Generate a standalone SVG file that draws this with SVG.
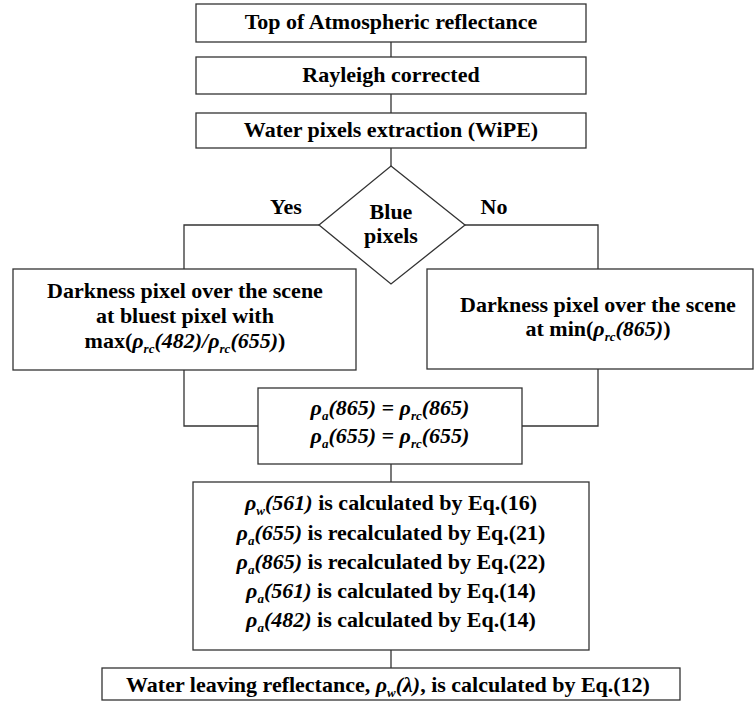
<svg xmlns="http://www.w3.org/2000/svg" width="756" height="702" viewBox="0 0 756 702">
<style>
.box{fill:#fff;stroke:#333;stroke-width:1.3}
.ln{fill:none;stroke:#333;stroke-width:1.3}
.t{font-family:"Liberation Serif","Times New Roman",serif;font-weight:bold;font-size:22px;fill:#000;text-anchor:middle}
.i{font-style:italic}
.s{font-size:13px;font-style:italic}
</style>
<rect width="756" height="702" fill="#fff"/>
<g id="connectors">
<path class="ln" d="M391,42V57M391,94V113M391,148V166"/>
<path class="ln" d="M319,225H184V269"/>
<path class="ln" d="M465,225H598V269"/>
<path class="ln" d="M184,370V426H258"/>
<path class="ln" d="M598,369V426H522"/>
<path class="ln" d="M391,464V482M391,650V668"/>
</g>
<g id="toa">
<rect class="box" x="196" y="4" width="390" height="38"/>
<text class="t" x="391" y="29">Top of Atmospheric reflectance</text>
</g>
<g id="rayleigh">
<rect class="box" x="196" y="57" width="390" height="37"/>
<text class="t" x="391" y="82">Rayleigh corrected</text>
</g>
<g id="wipe">
<rect class="box" x="196" y="113" width="390" height="35"/>
<text class="t" x="391" y="137">Water pixels extraction (WiPE)</text>
</g>
<g id="decision">
<polygon class="box" points="391,166 465,225 391,284 319,225"/>
<text class="t" x="391" y="219">Blue</text>
<text class="t" x="391" y="243">pixels</text>
<text class="t" x="286" y="214">Yes</text>
<text class="t" x="494" y="214">No</text>
</g>
<g id="left">
<rect class="box" x="13" y="269" width="343" height="101"/>
<text class="t" x="185" y="298">Darkness pixel over the scene</text>
<text class="t" x="185" y="323">at bluest pixel with</text>
<text class="t" x="185" y="348">max(<tspan class="i">ρ</tspan><tspan class="s" dy="5">rc</tspan><tspan class="i" dy="-5">(482)/ρ</tspan><tspan class="s" dy="5">rc</tspan><tspan class="i" dy="-5">(655)</tspan>)</text>
</g>
<g id="right">
<rect class="box" x="427" y="269" width="326" height="100"/>
<text class="t" x="598" y="312">Darkness pixel over the scene</text>
<text class="t" x="598" y="336">at min(<tspan class="i">ρ</tspan><tspan class="s" dy="5">rc</tspan><tspan class="i" dy="-5">(865)</tspan>)</text>
</g>
<g id="init">
<rect class="box" x="258" y="388" width="264" height="76"/>
<text class="t i" x="390" y="415">ρ<tspan class="s" dy="5">a</tspan><tspan dy="-5">(865) = ρ</tspan><tspan class="s" dy="5">rc</tspan><tspan dy="-5">(865)</tspan></text>
<text class="t i" x="390" y="443">ρ<tspan class="s" dy="5">a</tspan><tspan dy="-5">(655) = ρ</tspan><tspan class="s" dy="5">rc</tspan><tspan dy="-5">(655)</tspan></text>
</g>
<g id="calc">
<rect class="box" x="193" y="482" width="396" height="168"/>
<text class="t" x="391" y="510"><tspan class="i">ρ</tspan><tspan class="s" dy="5">w</tspan><tspan class="i" dy="-5">(561)</tspan> is calculated by Eq.(16)</text>
<text class="t" x="391" y="540"><tspan class="i">ρ</tspan><tspan class="s" dy="5">a</tspan><tspan class="i" dy="-5">(655)</tspan> is recalculated by Eq.(21)</text>
<text class="t" x="391" y="569"><tspan class="i">ρ</tspan><tspan class="s" dy="5">a</tspan><tspan class="i" dy="-5">(865)</tspan> is recalculated by Eq.(22)</text>
<text class="t" x="391" y="598"><tspan class="i">ρ</tspan><tspan class="s" dy="5">a</tspan><tspan class="i" dy="-5">(561)</tspan> is calculated by Eq.(14)</text>
<text class="t" x="391" y="627"><tspan class="i">ρ</tspan><tspan class="s" dy="5">a</tspan><tspan class="i" dy="-5">(482)</tspan> is calculated by Eq.(14)</text>
</g>
<g id="wlr">
<rect class="box" x="102" y="668" width="578" height="32"/>
<text class="t" x="388" y="692">Water leaving reflectance, <tspan class="i">ρ</tspan><tspan class="s" dy="5">w</tspan><tspan class="i" dy="-5">(λ)</tspan>, is calculated by Eq.(12)</text>
</g>
</svg>
